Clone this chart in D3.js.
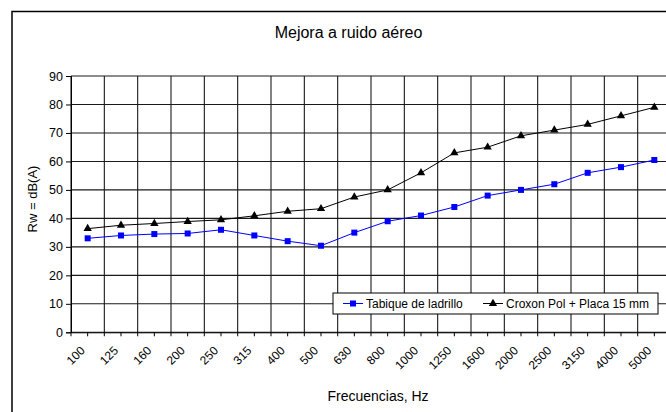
<!DOCTYPE html>
<meta charset="utf-8">
<script src="https://d3js.org/d3.v7.min.js"></script>
<style>
  body { margin: 0; background: #fff; }
  svg { font-family: "Liberation Sans", Arial, sans-serif; }
</style>
<svg id="chart" width="666" height="412"></svg>
<script>

// Data
var frecuencias = ["100","125","160","200","250","315","400","500","630","800","1000","1250","1600","2000","2500","3150","4000","5000"];
var tabique = [33, 34, 34.5, 34.7, 36, 34, 32, 30.4, 35, 39, 41, 44, 48, 50, 52, 56, 58, 60.5];
var croxon = [36.4, 37.6, 38.2, 38.9, 39.5, 40.9, 42.5, 43.4, 47.5, 50, 56, 63, 65, 69, 71, 73, 76, 79];
var yTicks = [0, 10, 20, 30, 40, 50, 60, 70, 80, 90];
var seriesNames = ["Tabique de ladrillo", "Croxon Pol + Placa 15 mm"];

var svg = d3.select("#chart");

// chart frame (runs past the right and bottom edge like the original)
svg.append("rect")
    .attr("x", 12).attr("y", 11.5)
    .attr("width", 700).attr("height", 420)
    .attr("fill", "#fff")
    .attr("stroke", "#000")
    .attr("stroke-width", 1.5);

// plot area
var pLeft = 71, pRight = 671, pTop = 76, pBottom = 332.3;

var x = d3.scaleBand().domain(frecuencias).range([pLeft, pRight]);
var y = d3.scaleLinear().domain([0, 90]).range([pBottom, pTop]);

// title
svg.append("text")
    .attr("x", 348.5).attr("y", 38)
    .attr("text-anchor", "middle")
    .style("font-size", "16px")
    .text("Mejora a ruido aéreo");

// horizontal gridlines
svg.append("g").selectAll("line")
  .data(yTicks).enter()
  .append("line")
    .attr("x1", pLeft).attr("x2", pRight)
    .attr("y1", d => y(d)).attr("y2", d => y(d))
    .attr("stroke", "#1a1a1a").attr("stroke-width", 1.1);

// vertical gridlines at category boundaries
var bounds = frecuencias.map(d => x(d));
svg.append("g").selectAll("line")
  .data(bounds).enter()
  .append("line")
    .attr("x1", d => d).attr("x2", d => d)
    .attr("y1", pTop).attr("y2", pBottom + 4)
    .attr("stroke", "#1a1a1a").attr("stroke-width", 1.1);

// y axis
var yAxis = svg.append("g")
    .attr("transform", "translate(" + pLeft + ",0)")
    .call(d3.axisLeft(y).tickValues(yTicks).tickSize(5).tickPadding(3));
yAxis.select(".domain").attr("stroke", "#000");
yAxis.selectAll("text").style("font-size", "12.5px").attr("fill", "#000");

// x axis (minor ticks at category centres)
var xAxis = svg.append("g")
    .attr("transform", "translate(0," + pBottom + ")")
    .call(d3.axisBottom(x).tickSize(4).tickSizeOuter(0));
xAxis.select(".domain").attr("stroke", "#000");
xAxis.selectAll("text")
    .style("font-size", "12px")
    .attr("fill", "#000")
    .attr("text-anchor", "end")
    .attr("dy", null)
    .attr("y", 0)
    .attr("transform", "translate(-2,19) rotate(-45)");

// axis titles
svg.append("text")
    .attr("transform", "translate(37,199) rotate(-90)")
    .attr("text-anchor", "middle")
    .style("font-size", "13px")
    .text("Rw = dB(A)");

svg.append("text")
    .attr("x", 378).attr("y", 401)
    .attr("text-anchor", "middle")
    .style("font-size", "14px")
    .text("Frecuencias, Hz");

// lines
var line = d3.line()
    .x((d, i) => x(frecuencias[i]) + x.bandwidth() / 2)
    .y(d => y(d));

svg.append("path").datum(croxon)
    .attr("d", line).attr("fill", "none")
    .attr("stroke", "#000").attr("stroke-width", 1);
svg.append("path").datum(tabique)
    .attr("d", line).attr("fill", "none")
    .attr("stroke", "#0000ff").attr("stroke-width", 1);

var tri = d3.symbol().type(d3.symbolTriangle).size(30);

svg.append("g").selectAll("path")
  .data(croxon).enter()
  .append("path")
    .attr("d", tri)
    .attr("transform", (d, i) => "translate(" + (x(frecuencias[i]) + x.bandwidth() / 2) + "," + y(d) + ")")
    .attr("fill", "#000");

svg.append("g").selectAll("rect")
  .data(tabique).enter()
  .append("rect")
    .attr("x", (d, i) => x(frecuencias[i]) + x.bandwidth() / 2 - 3)
    .attr("y", d => y(d) - 3)
    .attr("width", 6).attr("height", 6)
    .attr("fill", "#0000ff");

// legend
var lg = svg.append("g").attr("transform", "translate(333,293)");
lg.append("rect")
    .attr("width", 325).attr("height", 21)
    .attr("fill", "#fff").attr("stroke", "#000").attr("stroke-width", 1);

var items = [
  {name: seriesNames[0], color: "#0000ff", mark: "square", x0: 10},
  {name: seriesNames[1], color: "#000", mark: "triangle", x0: 150}
];
items.forEach(function(it) {
  var g = lg.append("g").attr("transform", "translate(" + it.x0 + ",10.5)");
  g.append("line").attr("x1", 0).attr("x2", 20).attr("y1", 0).attr("y2", 0)
    .attr("stroke", it.color).attr("stroke-width", 1);
  if (it.mark === "square") {
    g.append("rect").attr("x", 7).attr("y", -3).attr("width", 6).attr("height", 6).attr("fill", it.color);
  } else {
    g.append("path").attr("d", tri).attr("transform", "translate(10,0)").attr("fill", it.color);
  }
  g.append("text").attr("x", 23).attr("y", 4.5)
    .style("font-size", "12px")
    .text(it.name);
});

</script>
